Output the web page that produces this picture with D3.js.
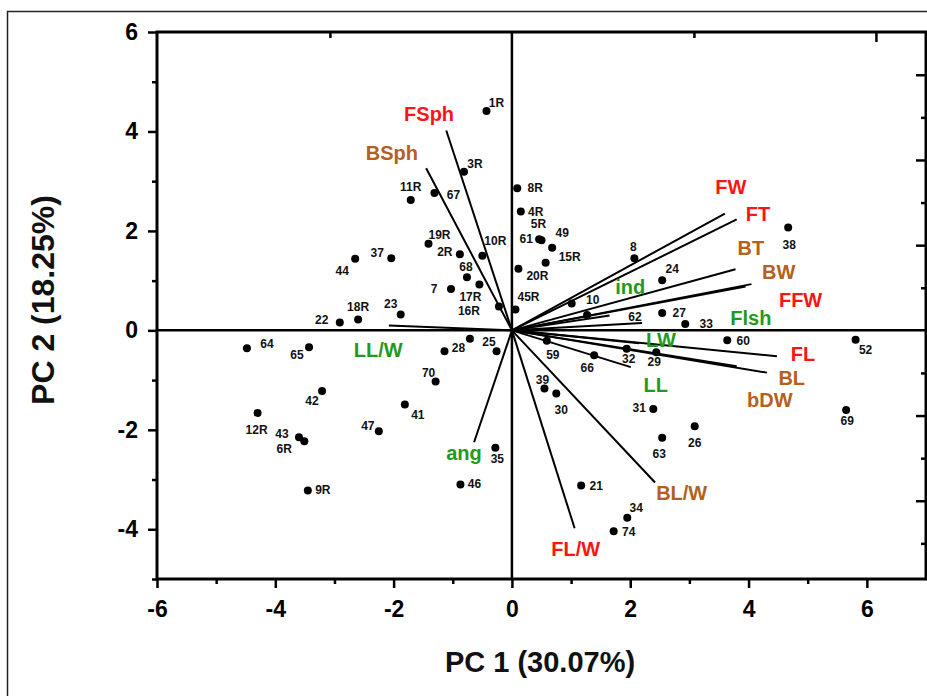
<!DOCTYPE html>
<html>
<head>
<meta charset="utf-8">
<script src="https://cdn.jsdelivr.net/npm/d3@7"></script>
<style>
  body { margin: 0; background: #fff; }
  text { font-family: "Liberation Sans", Arial, sans-serif; font-weight: bold; }
</style>
</head>
<body>
<div id="chart"></div>
<script>
// sample scores: [label, PC1, PC2]
const samples = [
  ["1R", -0.43, 4.41], ["3R", -0.81, 3.19], ["11R", -1.71, 2.62], ["67", -1.31, 2.76],
  ["19R", -1.41, 1.74], ["2R", -0.88, 1.53], ["10R", -0.5, 1.5], ["37", -2.04, 1.45],
  ["44", -2.65, 1.44], ["68", -0.76, 1.07], ["17R", -0.55, 0.92], ["16R", -0.22, 0.48],
  ["7", -1.03, 0.83], ["23", -1.88, 0.32], ["18R", -2.6, 0.22], ["22", -2.91, 0.16],
  ["25", -0.71, -0.17], ["", -0.26, -0.42], ["20R", 0.11, 1.24], ["8R", 0.09, 2.86],
  ["4R", 0.15, 2.39], ["61", 0.46, 1.83], ["5R", 0.5, 1.81], ["49", 0.68, 1.66],
  ["15R", 0.57, 1.36], ["45R", 0.06, 0.42], ["8", 2.07, 1.45], ["24", 2.54, 1.01],
  ["10", 1.01, 0.54], ["62", 1.27, 0.31], ["27", 2.54, 0.35], ["33", 2.93, 0.13],
  ["38", 4.67, 2.07], ["60", 3.64, -0.2], ["52", 5.81, -0.19], ["64", -4.48, -0.36],
  ["65", -3.43, -0.34], ["28", -1.14, -0.42], ["70", -1.29, -1.03], ["42", -3.21, -1.22],
  ["41", -1.81, -1.49], ["12R", -4.3, -1.66], ["43", -3.6, -2.15], ["6R", -3.51, -2.23],
  ["47", -2.25, -2.03], ["35", -0.28, -2.36], ["46", -0.87, -3.1], ["9R", -3.45, -3.22],
  ["32", 1.94, -0.37], ["29", 2.44, -0.44], ["59", 0.59, -0.21], ["66", 1.39, -0.5],
  ["39", 0.55, -1.17], ["30", 0.75, -1.27], ["31", 2.39, -1.58], ["26", 3.09, -1.93],
  ["63", 2.54, -2.16], ["69", 5.65, -1.6], ["21", 1.17, -3.12], ["34", 1.95, -3.77],
  ["74", 1.72, -4.04]
];

// label offset from the dot, px [dx, dy]
const sampleLabelOffset = {
  "1R": [10, -8], "3R": [11, -8], "11R": [0, -13], "67": [19, 2], "19R": [11, -9],
  "2R": [-15, -2], "10R": [13, -15], "37": [-14, -5], "44": [-13, 12], "68": [-1, -10],
  "17R": [-9, 12], "16R": [-30, 5], "7": [-17, 0], "23": [-10, -10], "18R": [0, -12],
  "22": [-18, -2], "25": [19, 3], "20R": [19, 7], "8R": [18, 0], "4R": [15, 0],
  "61": [-13, 0], "5R": [-3, -16], "49": [10, -15], "15R": [24, -6], "45R": [13, -12],
  "8": [-1, -11], "24": [10, -11], "10": [21, -4], "62": [48, 2], "27": [17, 0],
  "33": [21, 0], "38": [1, 18], "60": [16, 1], "52": [10, 10], "64": [20, -4],
  "65": [-12, 8], "28": [14, -3], "70": [-7, -9], "42": [-10, 10], "41": [13, 11],
  "12R": [-1, 17], "43": [-17, -3], "6R": [-20, 8], "47": [-11, -5], "35": [2, 11],
  "46": [14, -1], "9R": [15, 0], "32": [2, 10], "29": [-2, 10], "59": [6, 14],
  "66": [-7, 13], "39": [-2, -9], "30": [5, 16], "31": [-14, -1], "26": [0, 17],
  "63": [-3, 16], "69": [1, 11], "21": [15, 0], "34": [9, -10], "74": [15, 1]
};

// variable loadings (scaled): [name, PC1, PC2, group]
const loadings = [
  ["FSph", -1.11, 4.02, "fruit"], ["BSph", -1.45, 3.26, "bean"],
  ["LL/W", -2.08, 0.1, "leaf"], ["ang", -0.64, -2.25, "leaf"],
  ["FW", 3.6, 2.35, "fruit"], ["FT", 3.8, 2.23, "fruit"],
  ["BT", 3.78, 1.23, "bean"], ["BW", 4.05, 0.93, "bean"],
  ["FFW", 3.95, 0.88, "fruit"], ["ind", 1.65, 0.3, "leaf"],
  ["Flsh", 2.2, 0.15, "leaf"], ["LW", 2.15, -0.26, "leaf"],
  ["FL", 4.48, -0.52, "fruit"], ["BL", 4.31, -0.85, "bean"],
  ["bDW", 3.8, -0.72, "bean"], ["LL", 2.01, -0.74, "leaf"],
  ["BL/W", 2.42, -3.06, "bean"], ["FL/W", 1.06, -3.98, "fruit"]
];
// where each loading name is written (data units)
const loadingLabelAt = {
  "FSph": [-1.4, 4.35], "BSph": [-2.03, 3.56], "LL/W": [-2.26, -0.4], "ang": [-0.81, -2.47],
  "FW": [3.7, 2.88], "FT": [4.16, 2.35], "BT": [4.04, 1.65], "BW": [4.51, 1.17],
  "FFW": [4.88, 0.62], "ind": [2.0, 0.87], "Flsh": [4.04, 0.24], "LW": [2.52, -0.2],
  "FL": [4.92, -0.48], "BL": [4.73, -0.95], "bDW": [4.36, -1.4], "LL": [2.43, -1.09],
  "BL/W": [2.87, -3.28], "FL/W": [1.08, -4.39]
};
const groupColor = { fruit: "#ff1414", bean: "#b5601c", leaf: "#1f9a1f" };

const xMajor = [-6, -4, -2, 0, 2, 4, 6];
const xMinor = [-5, -3, -1, 1, 3, 5];
const yMajor = [-4, -2, 0, 2, 4, 6];
const yMinor = [-5, -3, -1, 1, 3, 5];

const width = 927, height = 696;
const plot = { left: 157, right: 926, top: 32, bottom: 579 };

const svg = d3.select("#chart").append("svg")
  .attr("width", width).attr("height", height);

// outer figure border
svg.append("rect")
  .attr("x", 7.5).attr("y", 11.5)
  .attr("width", 1000).attr("height", 720)
  .attr("fill", "none").attr("stroke", "#222").attr("stroke-width", 1.5);

const x = d3.scaleLinear().domain([-6, 7]).range([plot.left, plot.right]);
const y = d3.scaleLinear().domain([-5, 6]).range([plot.bottom, plot.top]);
// opposite axes carry their own tick spacing
const xTop = d3.scaleLinear().domain([(plot.left - x(0)) / 91, (plot.right - x(0)) / 91]).range([plot.left, plot.right]);
const yRight = d3.scaleLinear().domain([-(plot.bottom - y(0)) / 42.6, (y(0) - plot.top) / 42.6]).range([plot.bottom, plot.top]);

const plainNum = (d) => String(d); // hyphen minus, as in the original

function styleAxis(g) {
  g.select(".domain").remove();
  g.selectAll("line").attr("stroke", "#000").attr("stroke-width", 2.5);
  g.selectAll("text").attr("fill", "#000").style("font-size", "23px");
}

svg.append("g").attr("transform", `translate(0,${plot.bottom})`)
  .call(d3.axisBottom(x).tickValues(xMajor).tickSize(9).tickPadding(13).tickFormat(plainNum))
  .call(styleAxis);
svg.append("g").attr("transform", `translate(0,${plot.bottom})`)
  .call(d3.axisBottom(x).tickValues(xMinor).tickSize(5).tickFormat(""))
  .call(styleAxis);
svg.append("g").attr("transform", `translate(${plot.left},0)`)
  .call(d3.axisLeft(y).tickValues(yMajor).tickSize(9).tickPadding(10).tickFormat(plainNum))
  .call(styleAxis);
svg.append("g").attr("transform", `translate(${plot.left},0)`)
  .call(d3.axisLeft(y).tickValues(yMinor).tickSize(5).tickFormat(""))
  .call(styleAxis);

// inward ticks on top and right
svg.append("g").attr("transform", `translate(0,${plot.top})`)
  .call(d3.axisBottom(xTop).tickValues([-2, 2]).tickSize(6).tickFormat(""))
  .call(styleAxis);
svg.append("g").attr("transform", `translate(0,${plot.top})`)
  .call(d3.axisBottom(xTop).tickValues([4]).tickSize(10).tickFormat(""))
  .call(styleAxis);
svg.append("g").attr("transform", `translate(${plot.right},0)`)
  .call(d3.axisLeft(yRight).tickValues([-4, -2, 2, 4, 6]).tickSize(10).tickFormat(""))
  .call(styleAxis);
svg.append("g").attr("transform", `translate(${plot.right},0)`)
  .call(d3.axisLeft(yRight).tickValues([-5, -3, -1, 1, 3, 5]).tickSize(5).tickFormat(""))
  .call(styleAxis);

// frame
svg.append("rect")
  .attr("x", plot.left).attr("y", plot.top)
  .attr("width", plot.right - plot.left).attr("height", plot.bottom - plot.top)
  .attr("fill", "none").attr("stroke", "#000").attr("stroke-width", 3);

// zero lines
svg.append("line")
  .attr("x1", x(0)).attr("x2", x(0)).attr("y1", plot.top).attr("y2", plot.bottom)
  .attr("stroke", "#000").attr("stroke-width", 2.5);
svg.append("line")
  .attr("x1", plot.left).attr("x2", plot.right).attr("y1", y(0)).attr("y2", y(0))
  .attr("stroke", "#000").attr("stroke-width", 2.5);

// loading vectors
svg.append("g").selectAll("line")
  .data(loadings)
  .join("line")
  .attr("x1", x(0)).attr("y1", y(0))
  .attr("x2", (d) => x(d[1])).attr("y2", (d) => y(d[2]))
  .attr("stroke", "#000").attr("stroke-width", 2);

// sample points
svg.append("g").selectAll("circle")
  .data(samples)
  .join("circle")
  .attr("cx", (d) => x(d[1])).attr("cy", (d) => y(d[2]))
  .attr("r", 4).attr("fill", "#000");

svg.append("g").selectAll("text")
  .data(samples.filter((d) => d[0] !== ""))
  .join("text")
  .attr("x", (d) => x(d[1]) + sampleLabelOffset[d[0]][0])
  .attr("y", (d) => y(d[2]) + sampleLabelOffset[d[0]][1])
  .attr("text-anchor", "middle")
  .attr("dominant-baseline", "central")
  .style("font-size", "12px")
  .attr("fill", "#111")
  .text((d) => d[0]);

// loading names
svg.append("g").selectAll("text")
  .data(loadings)
  .join("text")
  .attr("x", (d) => x(loadingLabelAt[d[0]][0]))
  .attr("y", (d) => y(loadingLabelAt[d[0]][1]))
  .attr("text-anchor", "middle")
  .attr("dominant-baseline", "central")
  .style("font-size", "20px")
  .attr("fill", (d) => groupColor[d[3]])
  .text((d) => d[0]);

// axis titles
svg.append("text")
  .attr("x", 540).attr("y", 672)
  .attr("text-anchor", "middle")
  .style("font-size", "29px")
  .attr("fill", "#111")
  .text("PC 1 (30.07%)");

svg.append("text")
  .attr("transform", "translate(54,300) rotate(-90)")
  .attr("text-anchor", "middle")
  .style("font-size", "32px")
  .attr("fill", "#111")
  .text("PC 2 (18.25%)");
</script>
</body>
</html>
